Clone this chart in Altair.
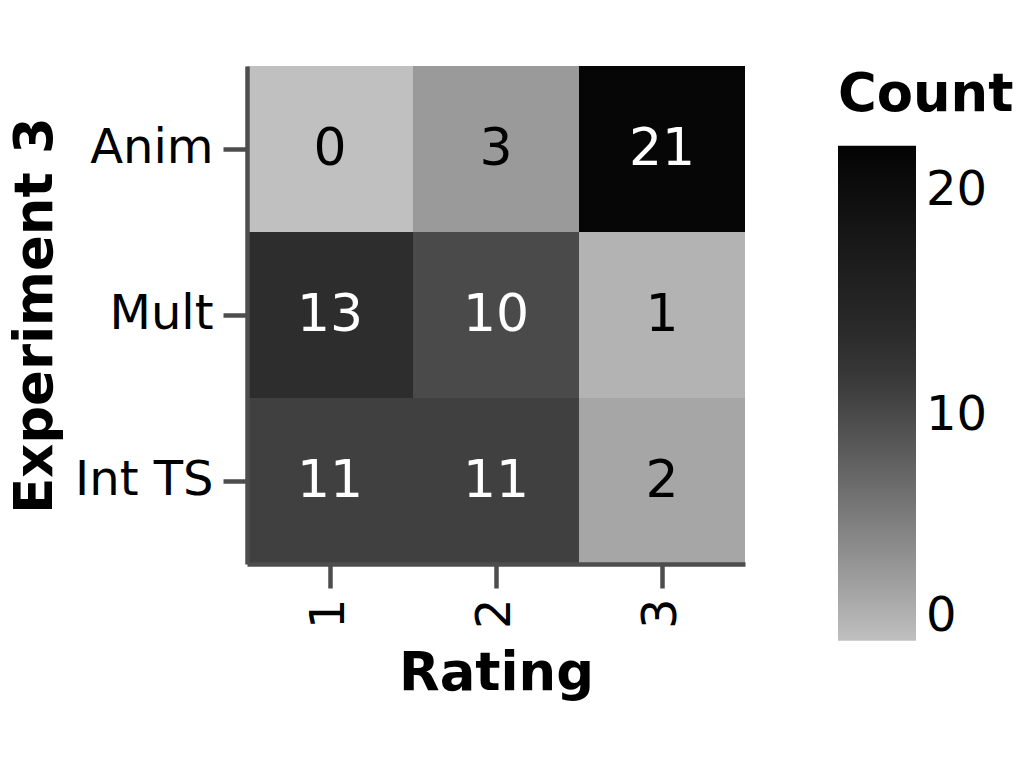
import altair as alt
import pandas as pd

experiments = ["Anim", "Mult", "Int TS"]
ratings = [1, 2, 3]
counts = [
    [0, 3, 21],
    [13, 10, 1],
    [11, 11, 2],
]

rows = []
for e, row in zip(experiments, counts):
    for r, c in zip(ratings, row):
        rows.append({"Experiment 3": e, "Rating": r, "Count": c})
df = pd.DataFrame(rows)

FONT = "DejaVu Sans"

color_domain = [0, 3, 10, 13, 21, 22]
color_range = ["#c0c0c0", "#9a9a9a", "#4a4a4a", "#2d2d2d", "#060606", "#040404"]

base = alt.Chart(df).encode(
    x=alt.X("Rating:O", title="Rating",
            axis=alt.Axis(labelAngle=-90)),
    y=alt.Y("Experiment 3:N", sort=experiments, title="Experiment 3",
            axis=alt.Axis(titlePadding=12)),
)

rects = base.mark_rect().encode(
    color=alt.Color(
        "Count:Q",
        title="Count",
        scale=alt.Scale(domain=color_domain, range=color_range),
        legend=alt.Legend(values=[0, 10, 20], gradientLength=495,
                          gradientThickness=78, labelOffset=10),
    )
)

texts = base.mark_text(fontSize=52, font=FONT).encode(
    text="Count:Q",
    color=alt.condition("datum.Count > 5", alt.value("white"), alt.value("black")),
)

chart = (
    alt.layer(rects, texts)
    .properties(width=498, height=498, padding={"left": 9, "top": 66, "right": 5, "bottom": 5})
    .configure(font=FONT)
    .configure_axis(
        labelFontSize=48,
        titleFontSize=52.8,
        labelFont=FONT,
        titleFont=FONT,
        tickSize=24,
        tickWidth=4.5,
        domainWidth=4.5,
        domainColor="#4d4d4d",
        tickColor="#4d4d4d",
        labelColor="black",
        titleColor="black",
        labelPadding=10,
        titlePadding=19,
    )
    .configure_legend(
        titleFontSize=52.8,
        labelFontSize=48,
        titleFont=FONT,
        labelFont=FONT,
        titleColor="black",
        labelColor="black",
        titlePadding=24,
        offset=90,
        padding=3,
    )
    .configure_view(strokeWidth=0)
)

chart.save("out.html", embed_options={"renderer": "svg", "actions": False})
